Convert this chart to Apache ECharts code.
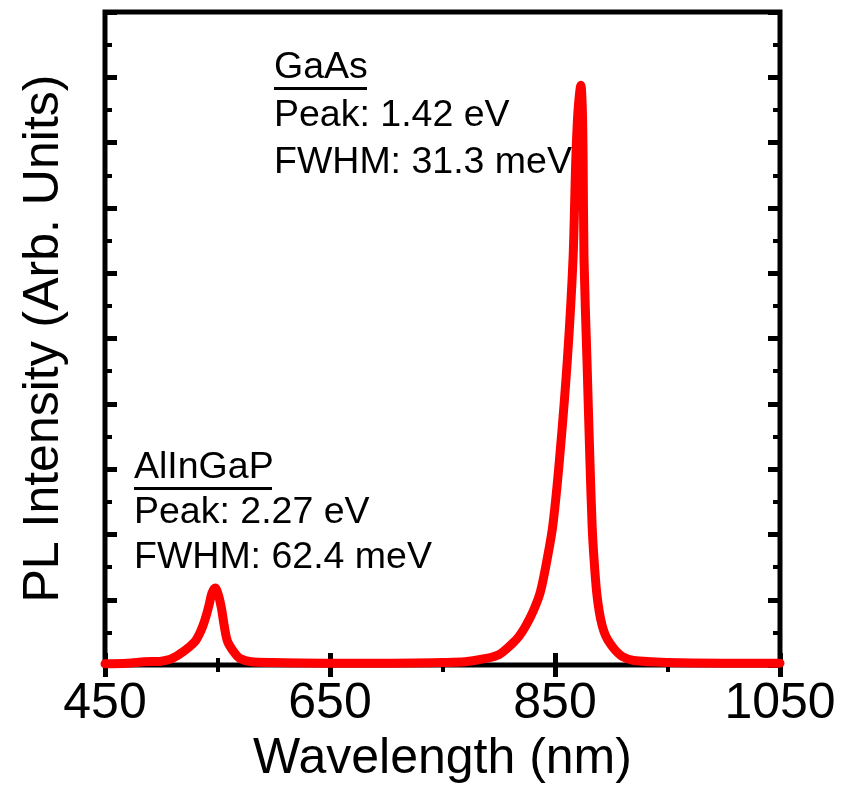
<!DOCTYPE html>
<html>
<head>
<meta charset="utf-8">
<title>PL spectrum</title>
<script src="https://cdn.jsdelivr.net/npm/echarts@6/dist/echarts.min.js"></script>
<style>
  html, body { margin: 0; padding: 0; background: #fff; }
  #chart { width: 852px; height: 789px; }
</style>
</head>
<body>
<div id="chart"></div>
<script>
// Photoluminescence spectrum: wavelength (nm) vs intensity (arb. units)
var wavelength = [450, 470, 485, 500, 508, 514, 519, 525, 530, 534, 537, 540, 542.5, 545, 548, 551, 553.6, 556, 559, 565, 570, 580, 600, 650, 700, 750, 770, 785, 800, 812, 818, 824, 831, 837, 843, 848, 854, 861, 866, 868.5, 870.5, 873, 874.3, 875, 875.8, 878.4, 881, 883, 884.7, 887, 889.5, 892, 895, 899, 904, 910, 920, 950, 1000, 1050];
var intensity  = [0.02, 0.03, 0.05, 0.06, 0.09, 0.14, 0.20, 0.28, 0.36, 0.48, 0.60, 0.76, 0.92, 1.10, 1.18, 1.06, 0.86, 0.60, 0.36, 0.19, 0.10, 0.05, 0.04, 0.03, 0.03, 0.04, 0.05, 0.09, 0.16, 0.33, 0.44, 0.60, 0.84, 1.12, 1.62, 2.13, 3.15, 4.68, 6.21, 7.74, 8.50, 8.88, 8.50, 7.74, 6.21, 4.68, 3.15, 2.13, 1.62, 1.12, 0.80, 0.60, 0.45, 0.33, 0.22, 0.13, 0.07, 0.04, 0.03, 0.03];

var xTicks = { min: 450, max: 1050, interval: 200 };
var yTicks = { min: 0, max: 10, interval: 1 };

// Peak annotations: title (underlined) + two detail lines
var gaasLines = ['GaAs', 'Peak: 1.42 eV', 'FWHM: 31.3 meV'];
var alingapLines = ['AlInGaP', 'Peak: 2.27 eV', 'FWHM: 62.4 meV'];

var FONT = '"Liberation Sans", Arial, sans-serif';

var points = wavelength.map(function (w, i) { return [w, intensity[i]]; });

function noteBlock(lines, left, top, step, underlineWidth) {
  var els = [];
  lines.forEach(function (t, i) {
    els.push({
      type: 'text', left: left, top: top + i * step, z: 10,
      style: { text: t, fill: '#000', font: '37.5px ' + FONT }
    });
  });
  els.push({
    type: 'rect', left: left, top: top + 38, z: 10,
    shape: { width: underlineWidth, height: 3 },
    style: { fill: '#000' }
  });
  return els;
}

function tickStyle() {
  return {
    axisLine: { show: false },
    axisTick: { show: true, inside: true, length: 12, lineStyle: { color: '#000', width: 5 } },
    minorTick: { show: true, splitNumber: 2, length: 7, lineStyle: { color: '#000', width: 4 } },
    splitLine: { show: false },
    minorSplitLine: { show: false }
  };
}

var chart = echarts.init(document.getElementById('chart'), null, { renderer: 'canvas' });

var option = {
  animation: false,
  backgroundColor: '#fff',
  grid: {
    left: 105, right: 72, top: 12, bottom: 123,
    show: true, borderWidth: 5, borderColor: '#000', backgroundColor: 'transparent'
  },
  xAxis: [
    Object.assign({
      type: 'value', position: 'bottom',
      min: xTicks.min, max: xTicks.max, interval: xTicks.interval,
      name: 'Wavelength (nm)', nameLocation: 'middle', nameGap: 62,
      nameTextStyle: { fontFamily: FONT, fontSize: 50, color: '#000' },
      axisLabel: {
        show: true, margin: 14, fontFamily: FONT, fontSize: 50, color: '#000',
        formatter: function (v) { return String(v); }
      }
    }, tickStyle()),
    Object.assign({
      type: 'value', position: 'top',
      min: xTicks.min, max: xTicks.max, interval: xTicks.interval,
      axisLabel: { show: false }
    }, tickStyle())
  ],
  yAxis: [
    Object.assign({
      type: 'value', position: 'left',
      min: yTicks.min, max: yTicks.max, interval: yTicks.interval,
      name: 'PL Intensity (Arb. Units)', nameLocation: 'middle', nameGap: 36,
      nameTextStyle: { fontFamily: FONT, fontSize: 50, color: '#000' },
      axisLabel: { show: false }
    }, tickStyle()),
    Object.assign({
      type: 'value', position: 'right',
      min: yTicks.min, max: yTicks.max, interval: yTicks.interval,
      axisLabel: { show: false }
    }, tickStyle())
  ],
  series: [{
    type: 'line',
    data: points,
    xAxisIndex: 0, yAxisIndex: 0,
    showSymbol: false,
    smooth: 0.3,
    clip: false,
    z: 5,
    lineStyle: { color: '#ff0000', width: 9, cap: 'round', join: 'round' }
  }],
  graphic: noteBlock(gaasLines, 274, 49, 47.5, 93).concat(noteBlock(alingapLines, 134, 449, 45, 138))
};

chart.setOption(option);
</script>
</body>
</html>
